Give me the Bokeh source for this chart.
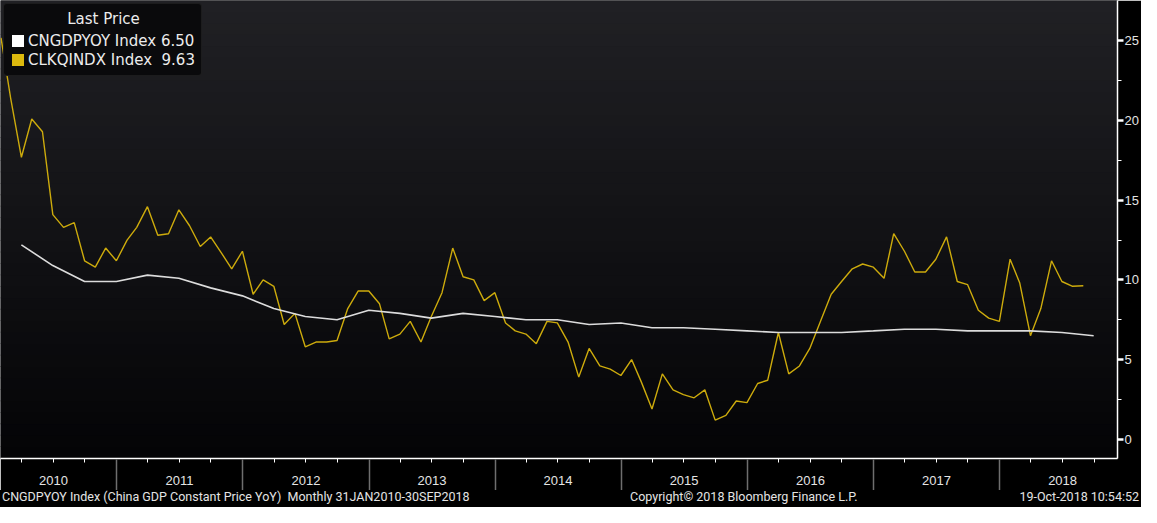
import datetime as dt
import pandas as pd
from bokeh.plotting import figure
from bokeh.layouts import column
from bokeh.models import (Range1d, FixedTicker, Legend, LegendItem, Div,
                          BoxAnnotation, DatetimeAxis, DatetimeTickFormatter)
from bokeh.embed import file_html
from bokeh.resources import INLINE

# ---------------- data ----------------
clk_dates = pd.date_range("2010-01-31", periods=104, freq=pd.offsets.MonthEnd())
clk_values = [
    25.2, 21.4, 17.7, 20.1, 19.3, 14.1, 13.3, 13.6, 11.2, 10.8, 12.0, 11.2,   # 2010
    12.5, 13.3, 14.6, 12.8, 12.9, 14.4, 13.4, 12.1, 12.7, 11.7, 10.7, 11.8,   # 2011
    9.1, 10.0, 9.6, 7.2, 7.9, 5.8, 6.1, 6.1, 6.2, 8.2, 9.3, 9.3,             # 2012
    8.5, 6.3, 6.6, 7.4, 6.1, 7.7, 9.2, 12.0, 10.2, 10.0, 8.7, 9.2,           # 2013
    7.3, 6.8, 6.6, 6.0, 7.4, 7.3, 6.1, 3.9, 5.7, 4.6, 4.4, 4.0,              # 2014
    5.0, 3.6, 1.9, 4.1, 3.1, 2.8, 2.6, 3.1, 1.2, 1.5, 2.4, 2.3,              # 2015
    3.5, 3.7, 6.7, 4.1, 4.6, 5.7, 7.4, 9.1, 9.9, 10.7, 11.0, 10.8,           # 2016
    10.1, 12.9, 11.8, 10.5, 10.5, 11.3, 12.7, 9.9, 9.7, 8.1, 7.6, 7.4,       # 2017
    11.3, 9.8, 6.5, 8.2, 11.2, 9.9, 9.6, 9.63,                               # 2018
]
gdp_dates = pd.date_range("2010-03-31", periods=35, freq=pd.offsets.QuarterEnd(startingMonth=3))
gdp_values = [
    12.2, 10.9, 9.9, 9.9,
    10.3, 10.1, 9.5, 9.0,
    8.2, 7.7, 7.5, 8.1,
    7.9, 7.6, 7.9, 7.7,
    7.5, 7.5, 7.2, 7.3,
    7.0, 7.0, 6.9, 6.8,
    6.7, 6.7, 6.7, 6.8,
    6.9, 6.9, 6.8, 6.8,
    6.8, 6.7, 6.5,
]
years = list(range(2010, 2019))
y_major = [0, 5, 10, 15, 20, 25]
y_minor = [2.5, 7.5, 12.5, 17.5, 22.5]

legend_title = "Last Price"
legend_labels = ["CNGDPYOY Index 6.50", "CLKQINDX Index\u00a0 9.63"]
footer_left = "CNGDPYOY Index (China GDP Constant Price YoY)  Monthly 31JAN2010-30SEP2018"
footer_mid = "Copyright\u00a9 2018 Bloomberg Finance L.P."
footer_right = "19-Oct-2018 10:54:52"

# ---------------- styling ----------------
W = 1141
FH = 17            # footer strip height
H = 507 - FH       # figure height
Y0, Y1 = -1.21, 27.54
FONT = "Liberation Sans"
TXT = "#e4e4e4"
YELLOW = "#cdab0c"
WHITE = "#dcdcdc"


def ms(ts):
    return pd.Timestamp(ts).value / 1e6


p = figure(width=W, height=H, x_axis_type="datetime", y_axis_location="right",
           output_backend="svg", toolbar_location=None,
           x_range=Range1d(dt.datetime(2010, 1, 29, 12), dt.datetime(2018, 12, 8)),
           y_range=Range1d(Y0, Y1),
           min_border_left=0, min_border_top=0, min_border_right=21,
           min_border_bottom=20)
p.border_fill_color = "black"
p.background_fill_color = "#0e0e11"
p.outline_line_color = None
p.xgrid.visible = False
p.ygrid.visible = False

# gradient background (dark grey at top to near black at bottom)
n_bands = 40
top_c = (32, 32, 36)
bot_c = (4, 4, 6)
for i in range(n_bands):
    f = i / (n_bands - 1)
    c = tuple(int(round(bot_c[k] + (top_c[k] - bot_c[k]) * f)) for k in range(3))
    b = Y0 + (Y1 - Y0) * i / n_bands
    t = Y0 + (Y1 - Y0) * (i + 1) / n_bands + 0.05
    p.add_layout(BoxAnnotation(bottom=b, top=t, fill_color="#%02x%02x%02x" % c,
                               fill_alpha=1, line_color=None, line_alpha=0,
                               level="underlay"))

# series
clk_r = p.line(clk_dates, clk_values, line_color=YELLOW, line_width=1.4)
gdp_r = p.line(gdp_dates, gdp_values, line_color=WHITE, line_width=1.6)

# ---------------- axes ----------------
# axis A: year labels centred in each year, quarter ticks
xa = p.xaxis[0]
mid_years = [ms(f"{y}-07-02") for y in years]
year_bounds = [ms(f"{y}-01-01") for y in range(2010, 2020)]
quarter_bounds = [ms(f"{y}-{m:02d}-01") for y in range(2010, 2019) for m in (4, 7, 10)]
xa.ticker = FixedTicker(ticks=mid_years, minor_ticks=quarter_bounds)
xa.formatter = DatetimeTickFormatter(years="%Y", months="%Y", days="%Y")
xa.axis_line_color = "white"
xa.axis_line_width = 1.5
xa.major_tick_line_color = None
xa.major_tick_out = 0
xa.major_tick_in = 0
xa.minor_tick_line_color = "white"
xa.minor_tick_out = 4
xa.minor_tick_in = 0
xa.major_label_standoff = 13
xa.major_label_text_color = TXT
xa.major_label_text_font = FONT
xa.major_label_text_font_size = "13px"

# axis B: grey year separators reaching up to the plot edge
xb = DatetimeAxis(ticker=FixedTicker(ticks=year_bounds, minor_ticks=[]))
xb.axis_line_color = None
xb.major_tick_line_color = "#6e6e6e"
xb.major_tick_line_width = 1.5
xb.major_tick_in = 28
xb.major_tick_out = 3
xb.minor_tick_line_color = None
xb.major_label_text_font_size = "1px"
xb.major_label_text_color = None
xb.major_label_standoff = 0
p.add_layout(xb, "below")

ya = p.yaxis[0]
ya.ticker = FixedTicker(ticks=y_major, minor_ticks=y_minor)
ya.axis_line_color = "white"
ya.axis_line_width = 1.5
ya.major_tick_line_color = "white"
ya.major_tick_line_width = 2.5
ya.major_tick_out = 6
ya.major_tick_in = 0
ya.minor_tick_line_color = "white"
ya.minor_tick_out = 4
ya.minor_tick_in = 0
ya.major_label_text_color = TXT
ya.major_label_text_font = FONT
ya.major_label_text_font_size = "13px"
ya.major_label_standoff = 1

# ---------------- legend ----------------
# zero-size markers anchored on each series' last value, used as legend swatches
sw_w = p.quad(left=[gdp_dates[-1]], right=[gdp_dates[-1]], top=[gdp_values[-1]],
              bottom=[gdp_values[-1]], fill_color="#ffffff", line_color=None)
sw_y = p.quad(left=[clk_dates[-1]], right=[clk_dates[-1]], top=[clk_values[-1]],
              bottom=[clk_values[-1]], fill_color="#dcb90e", line_color=None)
legend = Legend(items=[LegendItem(label=legend_labels[0], renderers=[sw_w]),
                       LegendItem(label=legend_labels[1], renderers=[sw_y])],
                title="\u00a0" * 12 + legend_title, location="top_left", margin=3,
                padding=6, spacing=0, glyph_width=15, glyph_height=15,
                label_height=19, label_standoff=3, title_standoff=3,
                label_text_font="DejaVu Sans", label_text_font_size="15px",
                label_text_color="#ececec",
                title_text_font="DejaVu Sans", title_text_font_size="15px",
                title_text_color="#ececec", title_text_font_style="normal",
                background_fill_color="#0a0a0c", background_fill_alpha=1,
                border_line_color="#2e2e2e", border_radius=4)
p.add_layout(legend)

# ---------------- footer strip ----------------
footer = Div(
    text=(f'<div style="position:relative;width:{W}px;height:{FH}px;background:#000;'
          f'color:{TXT};font-family:Roboto;font-size:12.5px;line-height:{FH}px;'
          f'white-space:pre;">'
          f'<span style="position:absolute;left:2px;top:-2px">{footer_left}</span>'
          f'<span style="position:absolute;left:630px;top:-2px">{footer_mid}</span>'
          f'<span style="position:absolute;right:2px;top:-2px">{footer_right}</span>'
          f'</div>'),
    width=W, height=FH, styles={"background-color": "#000", "margin": "0"})

layout = column(p, footer, spacing=0)
open("out.html", "w").write(file_html(layout, INLINE))
